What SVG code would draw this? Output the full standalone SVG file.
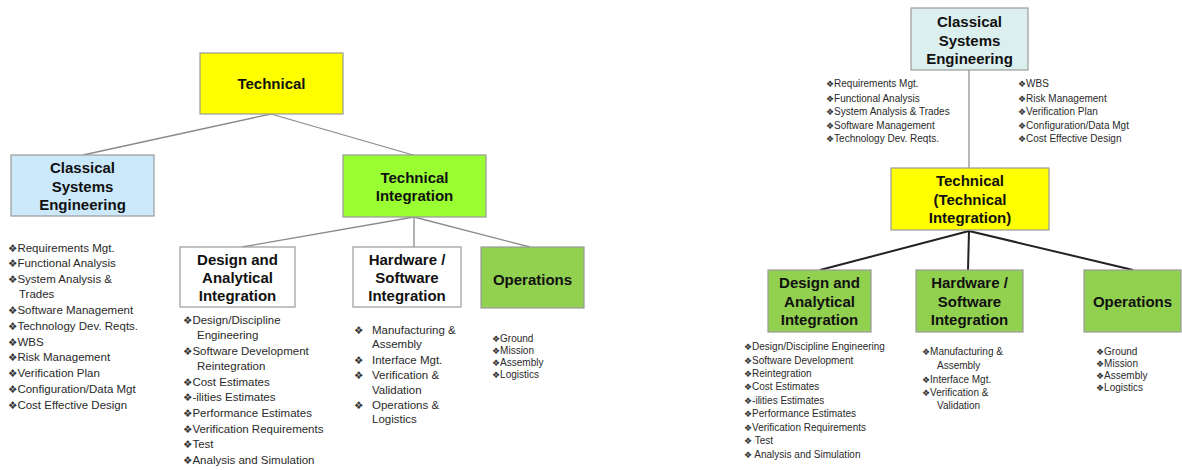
<svg xmlns="http://www.w3.org/2000/svg" width="1182" height="470" viewBox="0 0 1182 470">
<style>
.bx{stroke:#9a9a9a;stroke-width:1.2}
.t{font-family:"Liberation Sans",Arial,sans-serif;font-weight:bold;font-size:15px;fill:#111;text-anchor:middle}
.l{font-family:"Liberation Sans",Arial,sans-serif;fill:#2a2a2a}
.l1{font-size:11.5px}
.l2{font-size:10px}
.b{font-family:"DejaVu Sans",sans-serif;fill:#333}
.b1{font-size:10.5px}
.b2{font-size:9px}
.cg{stroke:#8a8a8a;stroke-width:1.3;fill:none}
.ck{stroke:#222;stroke-width:2;fill:none}
</style>
<rect width="1182" height="470" fill="#fff"/>
<g id="connectors">
<line class="cg" x1="271" y1="114" x2="83" y2="155"/>
<line class="cg" x1="271" y1="114" x2="413" y2="155"/>
<line class="cg" x1="414" y1="217" x2="242" y2="247"/>
<line class="cg" x1="414" y1="217" x2="414" y2="247"/>
<line class="cg" x1="414" y1="217" x2="530" y2="247"/>
<line x1="969" y1="70" x2="969" y2="168" stroke="#a0a0a0" stroke-width="1.5"/>
<line class="ck" x1="969" y1="231" x2="820" y2="270"/>
<line class="ck" x1="969" y1="231" x2="968" y2="270"/>
<line class="ck" x1="969" y1="231" x2="1133" y2="270"/>
</g>
<g id="n-technical-left">
<rect class="bx" x="200" y="53" width="143" height="61" fill="#ffff00"/>
<text class="t" x="271.5" y="89">Technical</text>
</g>
<g id="n-cse-left">
<rect class="bx" x="11" y="155" width="143" height="61" fill="#cce9fb"/>
<text class="t" x="82.5" y="173">Classical</text>
<text class="t" x="82.5" y="191.5">Systems</text>
<text class="t" x="82.5" y="210">Engineering</text>
</g>
<g id="n-techint-left">
<rect class="bx" x="343" y="155" width="143" height="62" fill="#99ff33"/>
<text class="t" x="414.5" y="183">Technical</text>
<text class="t" x="414.5" y="201">Integration</text>
</g>
<g id="n-design-left">
<rect class="bx" x="180" y="247" width="115" height="60" fill="#fff"/>
<text class="t" x="237.5" y="265">Design and</text>
<text class="t" x="237.5" y="283">Analytical</text>
<text class="t" x="237.5" y="301">Integration</text>
</g>
<g id="n-hw-left">
<rect class="bx" x="353" y="247" width="108" height="60" fill="#fff"/>
<text class="t" x="407" y="265">Hardware /</text>
<text class="t" x="407" y="283">Software</text>
<text class="t" x="407" y="301">Integration</text>
</g>
<g id="n-ops-left">
<rect class="bx" x="481" y="247" width="103" height="61" fill="#92d050"/>
<text class="t" x="532.5" y="285">Operations</text>
</g>
<g id="list-cse-left" class="l l1">
<text x="8" y="252"><tspan class="b b1">❖</tspan>Requirements Mgt.</text>
<text x="8" y="267"><tspan class="b b1">❖</tspan>Functional Analysis</text>
<text x="8" y="283"><tspan class="b b1">❖</tspan>System Analysis &amp;</text>
<text x="19" y="298">Trades</text>
<text x="8" y="314"><tspan class="b b1">❖</tspan>Software Management</text>
<text x="8" y="330"><tspan class="b b1">❖</tspan>Technology Dev. Reqts.</text>
<text x="8" y="346"><tspan class="b b1">❖</tspan>WBS</text>
<text x="8" y="361"><tspan class="b b1">❖</tspan>Risk Management</text>
<text x="8" y="377"><tspan class="b b1">❖</tspan>Verification Plan</text>
<text x="8" y="393"><tspan class="b b1">❖</tspan>Configuration/Data Mgt</text>
<text x="8" y="409"><tspan class="b b1">❖</tspan>Cost Effective Design</text>
</g>
<g id="list-design-left" class="l l1">
<text x="183" y="324"><tspan class="b b1">❖</tspan>Design/Discipline</text>
<text x="197" y="339">Engineering</text>
<text x="183" y="355"><tspan class="b b1">❖</tspan>Software Development</text>
<text x="197" y="370">Reintegration</text>
<text x="183" y="386"><tspan class="b b1">❖</tspan>Cost Estimates</text>
<text x="183" y="401"><tspan class="b b1">❖</tspan>-ilities Estimates</text>
<text x="183" y="417"><tspan class="b b1">❖</tspan>Performance Estimates</text>
<text x="183" y="433"><tspan class="b b1">❖</tspan>Verification Requirements</text>
<text x="183" y="448"><tspan class="b b1">❖</tspan>Test</text>
<text x="183" y="464"><tspan class="b b1">❖</tspan>Analysis and Simulation</text>
</g>
<g id="list-hw-left" class="l l1">
<text x="354" y="334" class="b b1">❖</text>
<text x="372" y="334">Manufacturing &amp;</text>
<text x="372" y="348">Assembly</text>
<text x="354" y="364" class="b b1">❖</text>
<text x="372" y="364">Interface Mgt.</text>
<text x="354" y="379" class="b b1">❖</text>
<text x="372" y="379">Verification &amp;</text>
<text x="372" y="394">Validation</text>
<text x="354" y="409" class="b b1">❖</text>
<text x="372" y="409">Operations &amp;</text>
<text x="372" y="423">Logistics</text>
</g>
<g id="list-ops-left" class="l l2">
<text x="492" y="341.5"><tspan class="b b2">❖</tspan>Ground</text>
<text x="492" y="353.5"><tspan class="b b2">❖</tspan>Mission</text>
<text x="492" y="365.5"><tspan class="b b2">❖</tspan>Assembly</text>
<text x="492" y="378"><tspan class="b b2">❖</tspan>Logistics</text>
</g>
<g id="n-cse-right">
<rect class="bx" x="911" y="8" width="117" height="62" fill="#dcefef"/>
<text class="t" x="969.5" y="27">Classical</text>
<text class="t" x="969.5" y="45.5">Systems</text>
<text class="t" x="969.5" y="64">Engineering</text>
</g>
<g id="list-cse-right-a" class="l l2">
<text x="826" y="87"><tspan class="b b2">❖</tspan>Requirements Mgt.</text>
<text x="826" y="101.5"><tspan class="b b2">❖</tspan>Functional Analysis</text>
<text x="826" y="115"><tspan class="b b2">❖</tspan>System Analysis &amp; Trades</text>
<text x="826" y="129"><tspan class="b b2">❖</tspan>Software Management</text>
<text x="826" y="142"><tspan class="b b2">❖</tspan>Technology Dev. Reqts.</text>
</g>
<g id="list-cse-right-b" class="l l2">
<text x="1018" y="87"><tspan class="b b2">❖</tspan>WBS</text>
<text x="1018" y="101.5"><tspan class="b b2">❖</tspan>Risk Management</text>
<text x="1018" y="115"><tspan class="b b2">❖</tspan>Verification Plan</text>
<text x="1018" y="129"><tspan class="b b2">❖</tspan>Configuration/Data Mgt</text>
<text x="1018" y="142"><tspan class="b b2">❖</tspan>Cost Effective Design</text>
</g>
<g id="n-technical-right">
<rect class="bx" x="891" y="168" width="158" height="62" fill="#ffff00"/>
<text class="t" x="970" y="186">Technical</text>
<text class="t" x="970" y="204.5">(Technical</text>
<text class="t" x="970" y="223">Integration)</text>
</g>
<g id="n-design-right">
<rect class="bx" x="768" y="270" width="103" height="62" fill="#92d050"/>
<text class="t" x="819.5" y="288">Design and</text>
<text class="t" x="819.5" y="306.5">Analytical</text>
<text class="t" x="819.5" y="325">Integration</text>
</g>
<g id="n-hw-right">
<rect class="bx" x="916" y="270" width="107" height="62" fill="#92d050"/>
<text class="t" x="969.5" y="288">Hardware /</text>
<text class="t" x="969.5" y="306.5">Software</text>
<text class="t" x="969.5" y="325">Integration</text>
</g>
<g id="n-ops-right">
<rect class="bx" x="1084" y="270" width="97" height="62" fill="#92d050"/>
<text class="t" x="1132.5" y="307">Operations</text>
</g>
<g id="list-design-right" class="l l2">
<text x="744" y="349.5"><tspan class="b b2">❖</tspan>Design/Discipline Engineering</text>
<text x="744" y="363.5"><tspan class="b b2">❖</tspan>Software Development</text>
<text x="744" y="377"><tspan class="b b2">❖</tspan>Reintegration</text>
<text x="744" y="390"><tspan class="b b2">❖</tspan>Cost Estimates</text>
<text x="744" y="404"><tspan class="b b2">❖</tspan>-ilities Estimates</text>
<text x="744" y="417"><tspan class="b b2">❖</tspan>Performance Estimates</text>
<text x="744" y="431"><tspan class="b b2">❖</tspan>Verification Requirements</text>
<text x="744" y="444"><tspan class="b b2">❖</tspan> Test</text>
<text x="744" y="458"><tspan class="b b2">❖</tspan> Analysis and Simulation</text>
</g>
<g id="list-hw-right" class="l l2">
<text x="922" y="355"><tspan class="b b2">❖</tspan>Manufacturing &amp;</text>
<text x="937" y="368.5">Assembly</text>
<text x="922" y="382.5"><tspan class="b b2">❖</tspan>Interface Mgt.</text>
<text x="922" y="396"><tspan class="b b2">❖</tspan>Verification &amp;</text>
<text x="937" y="408.5">Validation</text>
</g>
<g id="list-ops-right" class="l l2">
<text x="1096" y="355"><tspan class="b b2">❖</tspan>Ground</text>
<text x="1096" y="367"><tspan class="b b2">❖</tspan>Mission</text>
<text x="1096" y="379"><tspan class="b b2">❖</tspan>Assembly</text>
<text x="1096" y="391"><tspan class="b b2">❖</tspan>Logistics</text>
</g>
</svg>
